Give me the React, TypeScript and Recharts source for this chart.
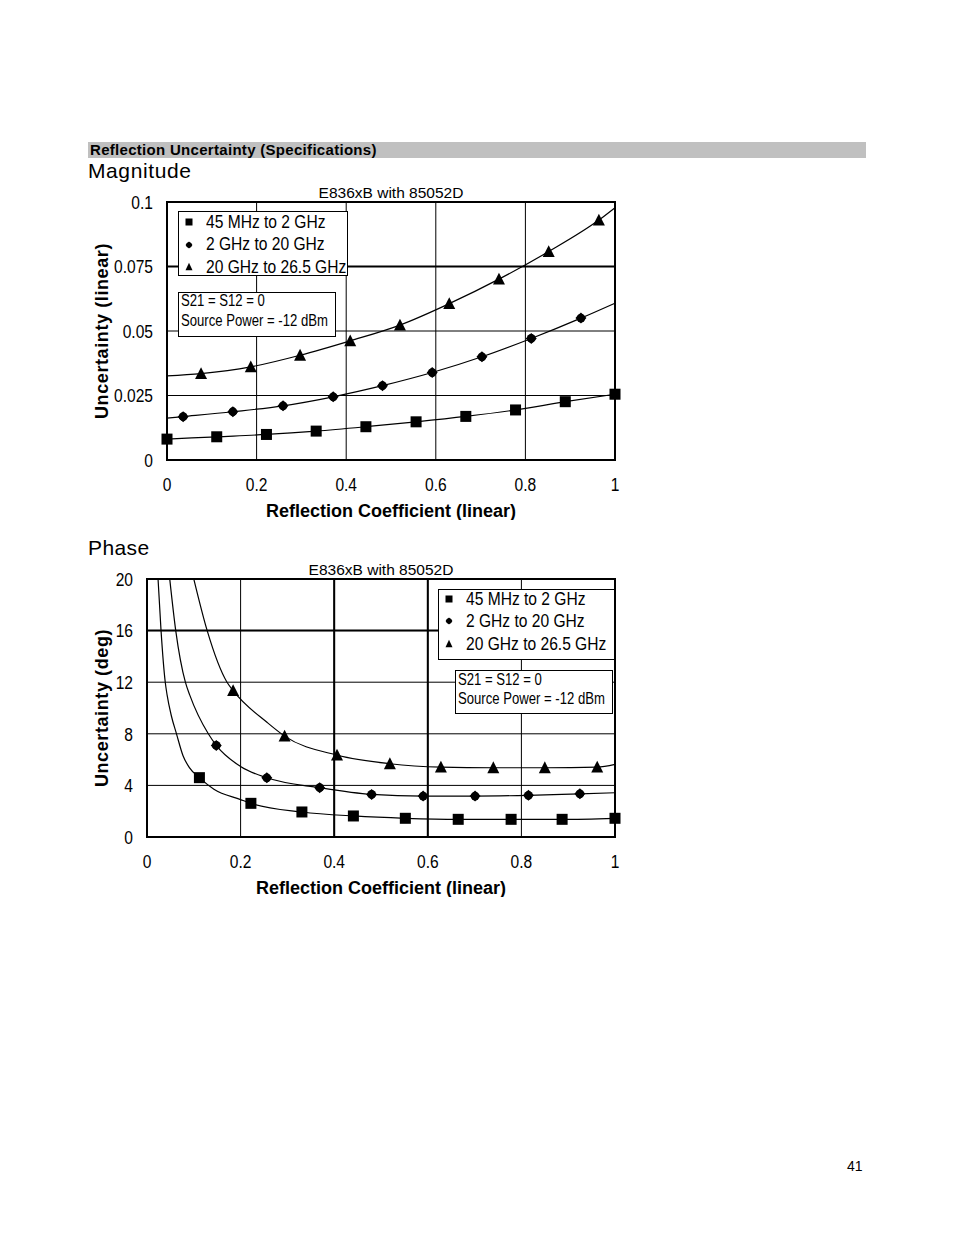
import React from "react";
import {
  ComposedChart,
  Line,
  Scatter,
  XAxis,
  YAxis,
  CartesianGrid,
  ReferenceLine,
  ReferenceArea,
} from "recharts";

// x ticks shared by both plots
const xTicks = [0, 0.2, 0.4, 0.6, 0.8, 1];
const magTicks = [0, 0.025, 0.05, 0.075, 0.1];
const phaseTicks = [0, 4, 8, 12, 16, 20];

const seriesNames = ["45 MHz to 2 GHz", "2 GHz to 20 GHz", "20 GHz to 26.5 GHz"];
const noteLines = ["S21 = S12 = 0", "Source Power = -12 dBm"];
const chartTitle = "E836xB with 85052D";

// Magnitude: markers [x, y]
const magLowPts = [
  [0, 0.0081], [0.111, 0.009], [0.222, 0.0099], [0.333, 0.0112], [0.444, 0.0129],
  [0.556, 0.0148], [0.667, 0.0169], [0.778, 0.0194], [0.889, 0.0226], [1, 0.0255],
];
const magMidPts = [
  [0.036, 0.0168], [0.147, 0.0187], [0.259, 0.021], [0.371, 0.0245], [0.481, 0.0288],
  [0.592, 0.0339], [0.703, 0.04], [0.813, 0.0471], [0.924, 0.055],
];
const magHighPts = [
  [0.076, 0.0335], [0.187, 0.0361], [0.297, 0.0406], [0.409, 0.0462], [0.52, 0.0523],
  [0.63, 0.0606], [0.741, 0.0701], [0.852, 0.0808], [0.964, 0.093],
];
// Magnitude: fitted curves
const magLowCurve = magLowPts;
const magMidCurve = [[0, 0.0162], ...magMidPts, [1, 0.0608]];
const magHighCurve = [[0, 0.0326], ...magHighPts, [1, 0.0978]];

// Phase: markers [x, y]
const phLowPts = [
  [0.112, 4.6], [0.222, 2.61], [0.331, 1.94], [0.441, 1.63], [0.552, 1.45],
  [0.665, 1.37], [0.778, 1.37], [0.887, 1.37], [1, 1.45],
];
const phMidPts = [
  [0.148, 7.1], [0.256, 4.59], [0.369, 3.82], [0.48, 3.3], [0.59, 3.17],
  [0.701, 3.17], [0.815, 3.23], [0.925, 3.35],
];
const phHighPts = [
  [0.184, 11.35], [0.294, 7.82], [0.406, 6.35], [0.519, 5.68], [0.628, 5.42],
  [0.74, 5.37], [0.85, 5.37], [0.962, 5.42],
];
// Phase: fitted curves
const phLowCurve = [
  [0.0236, 20], [0.03, 16], [0.039, 12], [0.043, 11], [0.052, 9.4], [0.063, 8],
  [0.077, 6.3], [0.0906, 5.38], [0.112, 4.6], [0.143, 3.7], [0.2, 2.9], [0.222, 2.61],
  [0.331, 1.94], [0.441, 1.63], [0.552, 1.45], [0.665, 1.37], [0.778, 1.37],
  [0.887, 1.37], [1, 1.45],
];
const phMidCurve = [
  [0.0486, 20], [0.0614, 16], [0.082, 12], [0.0914, 11], [0.131, 8], [0.148, 7.1],
  [0.2, 5.46], [0.256, 4.59], [0.369, 3.82], [0.48, 3.3], [0.59, 3.17], [0.701, 3.17],
  [0.815, 3.23], [0.925, 3.35], [1, 3.43],
];
const phHighCurve = [
  [0.1, 20], [0.1286, 16], [0.171, 12], [0.184, 11.35], [0.257, 8.87], [0.294, 7.82],
  [0.406, 6.35], [0.519, 5.68], [0.628, 5.42], [0.74, 5.37], [0.85, 5.37],
  [0.962, 5.42], [1, 5.63],
];

const toRows = (pts: number[][]) => pts.map(([x, y]) => ({ x, y }));

const SANS = "'Liberation Sans', Arial, Helvetica, sans-serif";
const NARROW_SCALE = 0.82; // Arial Narrow is ~82% of Arial's width

type Kind = "square" | "diamond" | "triangle";
const kinds: Kind[] = ["square", "diamond", "triangle"];

function Marker({ cx, cy, kind, s }: { cx: number; cy: number; kind: Kind; s: number }) {
  if (kind === "square") {
    return <rect x={cx - s / 2} y={cy - s / 2} width={s} height={s} fill="#000" />;
  }
  if (kind === "diamond") {
    const h = s / 2;
    return (
      <g>
        <circle cx={cx} cy={cy} r={h * 0.8} fill="#000" />
        <polygon
          points={`${cx},${cy - h} ${cx + h},${cy} ${cx},${cy + h} ${cx - h},${cy}`}
          fill="#000"
        />
      </g>
    );
  }
  const h = s * 0.9;
  return (
    <polygon
      points={`${cx},${cy - h / 2 - 1} ${cx + s / 2},${cy + h / 2} ${cx - s / 2},${cy + h / 2}`}
      fill="#000"
    />
  );
}

const shapeFor = (kind: Kind, s: number) => (p: any) =>
  <Marker cx={p.cx} cy={p.cy} kind={kind} s={s} />;

// condensed text for html boxes
function Narrow({ children, size }: { children: React.ReactNode; size: number }) {
  return (
    <span
      style={{
        display: "inline-block", fontFamily: SANS, fontSize: size, whiteSpace: "nowrap",
        transform: `scaleX(${NARROW_SCALE})`, transformOrigin: "left center",
      }}
    >
      {children}
    </span>
  );
}

function XTick({ x, y, payload }: any) {
  return (
    <g transform={`translate(${x},${y}) scale(${NARROW_SCALE},1)`}>
      <text x={0} y={0} dy="0.71em" textAnchor="middle" fontFamily={SANS} fontSize={19} fill="#000">
        {payload.value}
      </text>
    </g>
  );
}

function YTick({ x, y, payload }: any) {
  return (
    <g transform={`translate(${x},${y}) scale(${NARROW_SCALE},1)`}>
      <text x={0} y={0} dy="0.355em" textAnchor="end" fontFamily={SANS} fontSize={19} fill="#000">
        {payload.value}
      </text>
    </g>
  );
}

function LegendBox({ left, top, width, height, rowTops }: any) {
  return (
    <div
      style={{
        position: "absolute", left, top, width, height, boxSizing: "border-box",
        border: "1px solid #000", background: "#fff",
      }}
    >
      {seriesNames.map((name, i) => (
        <div
          key={name}
          style={{
            position: "absolute", left: 0, top: rowTops[i] - 10, height: 20, display: "flex",
            alignItems: "center", whiteSpace: "nowrap",
          }}
        >
          <svg width={20} height={20}>
            <Marker cx={10} cy={10} kind={kinds[i]} s={7} />
          </svg>
          <span style={{ marginLeft: 7, lineHeight: "20px" }}>
            <Narrow size={19}>{name}</Narrow>
          </span>
        </div>
      ))}
    </div>
  );
}

function NoteBox({ left, top, width, height, rowTops }: any) {
  return (
    <div
      style={{
        position: "absolute", left, top, width, height, boxSizing: "border-box",
        border: "1px solid #000", background: "#fff",
      }}
    >
      {noteLines.map((t, i) => (
        <div
          key={t}
          style={{ position: "absolute", left: 2, top: rowTops[i] - 9, height: 18, lineHeight: "18px" }}
        >
          <Narrow size={16}>{t}</Narrow>
        </div>
      ))}
    </div>
  );
}

const axisTitleStyle = { fontFamily: SANS, fontSize: 18, fontWeight: 700, fill: "#000" };

function Plot({
  yTicks, yMax, yAxisWidth, yTitle, curves, points, thickX, thickY,
}: {
  yTicks: number[]; yMax: number; yAxisWidth: number; yTitle: string;
  curves: number[][][]; points: number[][][]; thickX: number[]; thickY: number[];
}) {
  return (
    <ComposedChart width={537} height={340} margin={{ top: 22, right: 10, bottom: 0, left: 0 }}>
      <CartesianGrid stroke="#000" strokeWidth={1} />
      <XAxis
        dataKey="x" type="number" domain={[0, 1]} ticks={xTicks}
        tickLine={false} tickSize={0} tickMargin={18} axisLine={false} height={60}
        tick={<XTick />} interval={0}
        label={{ value: "Reflection Coefficient (linear)", position: "insideBottom", offset: 3, style: axisTitleStyle }}
      />
      <YAxis
        dataKey="y" type="number" domain={[0, yMax]} ticks={yTicks}
        tickLine={false} tickSize={0} tickMargin={14} axisLine={false} width={yAxisWidth}
        tick={<YTick />} interval={0}
        label={{
          value: yTitle, angle: -90, position: "insideLeft", offset: 14,
          style: { ...axisTitleStyle, textAnchor: "middle", letterSpacing: 0.6 },
        }}
      />
      {thickX.map((v) => (
        <ReferenceLine key={"x" + v} x={v} stroke="#000" strokeWidth={2} />
      ))}
      {thickY.map((v) => (
        <ReferenceLine key={"y" + v} y={v} stroke="#000" strokeWidth={2} />
      ))}
      {curves.map((c, i) => (
        <Line
          key={"c" + i} data={toRows(c)} dataKey="y" type="monotone" stroke="#000"
          strokeWidth={1.2} dot={false} activeDot={false} isAnimationActive={false}
        />
      ))}
      <ReferenceArea
        x1={0} x2={1} y1={0} y2={yMax} fill="none" stroke="#000" strokeWidth={2}
        label={{ value: chartTitle, position: "top", offset: 4, style: { fontFamily: SANS, fontSize: 15.5, fill: "#000" } }}
      />
      {points.map((p, i) => (
        <Scatter
          key={"p" + i} data={toRows(p)} dataKey="y" isAnimationActive={false}
          shape={shapeFor(kinds[i], i === 0 ? 11 : i === 1 ? 11 : 12)}
        />
      ))}
    </ComposedChart>
  );
}

export default function App() {
  return (
    <div style={{ position: "relative", width: 954, height: 1235, fontFamily: SANS, color: "#000" }}>
      <style>{"body{margin:0;background:#fff}"}</style>
      <div
        style={{
          position: "absolute", left: 88, top: 142, width: 778, height: 16, background: "#c0c0c0",
          fontWeight: 700, fontSize: 15, lineHeight: "16px", paddingLeft: 2, boxSizing: "border-box",
          letterSpacing: 0.3, whiteSpace: "nowrap",
        }}
      >
        Reflection Uncertainty (Specifications)
      </div>
      <div style={{ position: "absolute", left: 88, top: 160, fontSize: 21, lineHeight: "21px", letterSpacing: 0.6 }}>
        Magnitude
      </div>
      <div style={{ position: "absolute", left: 88, top: 537, fontSize: 21, lineHeight: "21px", letterSpacing: 0.4 }}>
        Phase
      </div>

      <div style={{ position: "absolute", left: 88, top: 180 }}>
        <Plot
          yTicks={magTicks} yMax={0.1} yAxisWidth={79} yTitle="Uncertainty (linear)"
          curves={[magLowCurve, magMidCurve, magHighCurve]}
          points={[magLowPts, magMidPts, magHighPts]}
          thickX={[]} thickY={[0.075]}
        />
      </div>
      <LegendBox left={178} top={211} width={170} height={65} rowTops={[10, 32.5, 55]} />
      <NoteBox left={178} top={292} width={158} height={45} rowTops={[8, 28]} />

      <div style={{ position: "absolute", left: 88, top: 557 }}>
        <Plot
          yTicks={phaseTicks} yMax={20} yAxisWidth={59} yTitle="Uncertainty (deg)"
          curves={[phLowCurve, phMidCurve, phHighCurve]}
          points={[phLowPts, phMidPts, phHighPts]}
          thickX={[0.4, 0.6]} thickY={[16]}
        />
      </div>
      <LegendBox left={438} top={589} width={177} height={71} rowTops={[9, 31, 54]} />
      <NoteBox left={455} top={670} width={158} height={44} rowTops={[9, 28]} />

      <div style={{ position: "absolute", left: 847, top: 1159, fontSize: 14, lineHeight: "14px" }}>41</div>
    </div>
  );
}
